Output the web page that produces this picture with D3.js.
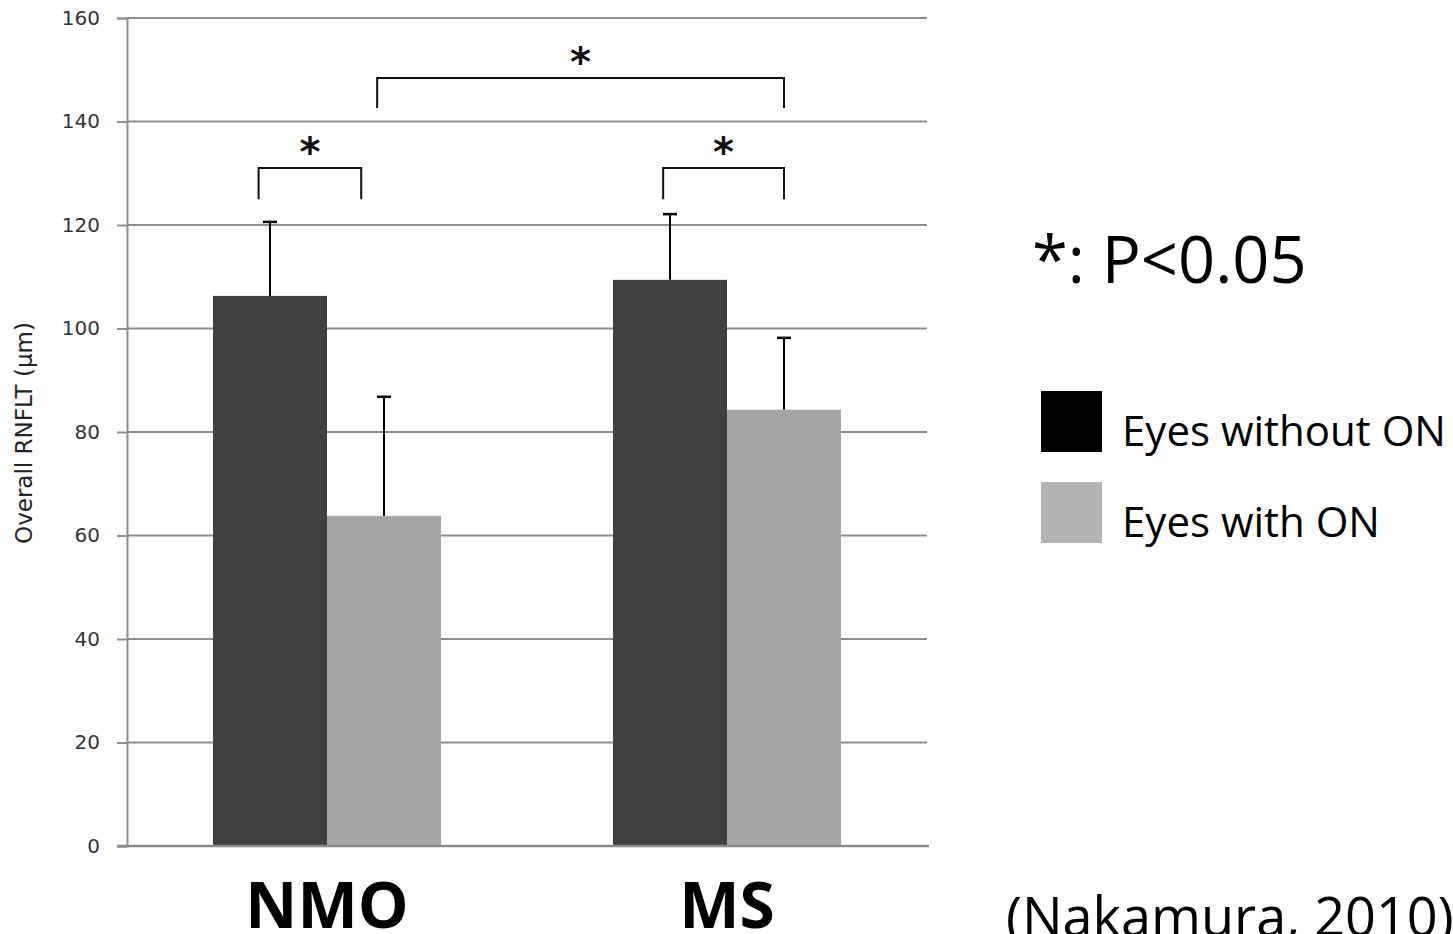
<!DOCTYPE html>
<html>
<head>
<meta charset="utf-8">
<script src="https://cdn.jsdelivr.net/npm/d3@7"></script>
<style>
  body { margin: 0; background: #fff; }
  svg { display: block; }
</style>
</head>
<body>
<svg id="chart"></svg>
<script>
// data
const categories = ["NMO", "MS"];
const seriesNames = ["Eyes without ON", "Eyes with ON"];
const meanWithout = [106.3, 109.4];
const meanWith = [63.8, 84.3];
const sdWithout = [14.3, 12.7];
const sdWith = [23.0, 13.9];
const yTicks = [0, 20, 40, 60, 80, 100, 120, 140, 160];

// significance brackets: group index + position inside the group, values in µm
const brackets = [
  { from: [0, 0.2], to: [0, 0.65], low: 125, high: 131 },
  { from: [1, 0.22], to: [1, 0.75], low: 125, high: 131 },
  { from: [0, 0.72], to: [1, 0.75], low: 142.6, high: 148.4 }
];

const width = 1453, height = 934;
const svg = d3.select("#chart")
    .attr("width", width)
    .attr("height", height);

const y = d3.scaleLinear()
    .domain([0, 160])
    .range([846, 18]);

const x = d3.scaleBand()
    .domain(categories)
    .range([127, 927])
    .paddingInner(0.43)
    .paddingOuter(0.215);

const xSub = d3.scaleBand()
    .domain(seriesNames)
    .range([0, x.bandwidth()]);

const colors = d3.scaleOrdinal()
    .domain(seriesNames)
    .range(["#404040", "#a6a6a6"]);

// gridlines
svg.append("g")
  .selectAll("line")
  .data(yTicks.slice(1))
  .join("line")
    .attr("x1", 127)
    .attr("x2", 927)
    .attr("y1", d => y(d))
    .attr("y2", d => y(d))
    .attr("stroke", "#8e8e8e")
    .attr("stroke-width", 2);

// y axis
let yAxis = svg.append("g")
    .attr("transform", "translate(127,0)")
    .call(d3.axisLeft(y).tickValues(yTicks).tickSize(10).tickPadding(17));
yAxis.select(".domain").attr("stroke", "#909090").attr("stroke-width", 2);
yAxis.selectAll(".tick line").attr("stroke", "#909090").attr("stroke-width", 2);
yAxis.selectAll(".tick text")
    .attr("font-family", "DejaVu Sans")
    .attr("font-size", 20)
    .attr("fill", "#333");

svg.append("text")
    .attr("transform", "translate(32,433) rotate(-90)")
    .attr("text-anchor", "middle")
    .attr("font-family", "DejaVu Sans")
    .attr("font-size", 23)
    .attr("fill", "#222")
    .text("Overall RNFLT (μm)");

// bars
let rows = categories.map((c, i) => ({
  cat: c,
  values: [
    { name: seriesNames[0], mean: meanWithout[i], sd: sdWithout[i] },
    { name: seriesNames[1], mean: meanWith[i], sd: sdWith[i] }
  ]
}));

let groups = svg.append("g")
  .selectAll("g")
  .data(rows)
  .join("g")
    .attr("transform", d => `translate(${x(d.cat)},0)`);

groups.selectAll("rect")
  .data(d => d.values)
  .join("rect")
    .attr("x", d => xSub(d.name))
    .attr("y", d => y(d.mean))
    .attr("width", xSub.bandwidth())
    .attr("height", d => y(0) - y(d.mean))
    .attr("fill", d => colors(d.name));

// error bars (upper only)
let errs = groups.selectAll("g.err")
  .data(d => d.values)
  .join("g")
    .classed("err", true)
    .attr("transform", d => `translate(${xSub(d.name) + xSub.bandwidth() / 2},0)`);

errs.append("line")
    .attr("y1", d => y(d.mean))
    .attr("y2", d => y(d.mean + d.sd))
    .attr("stroke", "#000")
    .attr("stroke-width", 2);

errs.append("line")
    .attr("x1", -7)
    .attr("x2", 7)
    .attr("y1", d => y(d.mean + d.sd))
    .attr("y2", d => y(d.mean + d.sd))
    .attr("stroke", "#000")
    .attr("stroke-width", 2.5);

// x baseline
svg.append("line")
    .attr("x1", 117)
    .attr("x2", 929)
    .attr("y1", y(0))
    .attr("y2", y(0))
    .attr("stroke", "#8a8a8a")
    .attr("stroke-width", 2.5);

// category labels
svg.append("g")
  .selectAll("text")
  .data(categories)
  .join("text")
    .attr("x", d => x(d) + x.bandwidth() / 2)
    .attr("y", 928)
    .attr("text-anchor", "middle")
    .attr("font-family", "Open Sans")
    .attr("font-weight", "bold")
    .attr("font-size", 64)
    .attr("fill", "#000")
    .text(d => d);

// significance brackets
function bx(p) {
  return x(categories[p[0]]) + p[1] * x.bandwidth();
}

let br = svg.append("g")
  .selectAll("g")
  .data(brackets)
  .join("g");

br.append("path")
    .attr("d", d => `M${bx(d.from)},${y(d.low)}V${y(d.high)}H${bx(d.to)}V${y(d.low)}`)
    .attr("fill", "none")
    .attr("stroke", "#111")
    .attr("stroke-width", 2);

br.append("text")
    .attr("x", d => (bx(d.from) + bx(d.to)) / 2)
    .attr("y", d => y(d.high) - 2)
    .attr("text-anchor", "middle")
    .attr("font-family", "DejaVu Sans")
    .attr("font-weight", "bold")
    .attr("font-size", 40)
    .attr("fill", "#111")
    .text("*");

// note + legend
svg.append("text")
    .attr("x", 1032)
    .attr("y", 283)
    .attr("font-family", "Open Sans")
    .attr("font-size", 65)
    .attr("fill", "#000")
    .text("*: P<0.05");

let legend = svg.append("g")
  .selectAll("g")
  .data(seriesNames)
  .join("g")
    .attr("transform", (d, i) => `translate(1041,${391 + i * 91})`);

legend.append("rect")
    .attr("width", 61)
    .attr("height", 61)
    .attr("fill", (d, i) => i === 0 ? "#000" : "#b4b4b4");

legend.append("text")
    .attr("x", 81)
    .attr("y", 55)
    .attr("font-family", "Open Sans")
    .attr("font-size", 42)
    .attr("fill", "#000")
    .text(d => d);

svg.append("text")
    .attr("x", 1006)
    .attr("y", 936)
    .attr("font-family", "Open Sans")
    .attr("font-size", 54)
    .attr("fill", "#000")
    .text("(Nakamura, 2010)");
</script>
</body>
</html>
